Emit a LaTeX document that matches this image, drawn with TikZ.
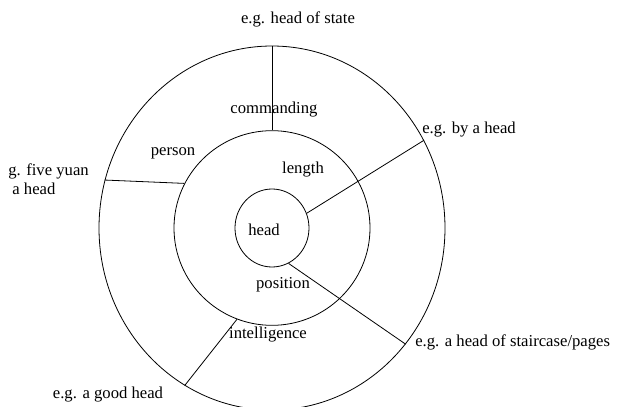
\documentclass[tikz,border=0pt]{standalone}
\usepackage{fontspec}
\setmainfont{Liberation Serif}
\usetikzlibrary{shapes.geometric}

\begin{document}
\begin{tikzpicture}[
    x=0.75pt, y=-0.75pt,
    ring/.style={draw, ellipse, inner sep=0pt, line width=0.6pt, minimum width=#1},
    lbl/.style={font=\fontsize{12.5}{14}\selectfont, inner sep=0pt},
    spoke/.style={line width=0.6pt}
]
\useasboundingbox (0,0) rectangle (619,407);

\node[ring=259.5pt, minimum height=273pt] (outer) at (272, 228) {};
\node[ring=147pt, minimum height=146pt] (middle) at (272, 228) {};
\node[ring=55.5pt, minimum height=58.5pt] (inner) at (272, 228) {};

\node[lbl] (state) at (298, 19) {e.g. head of state};
\node[lbl] (commanding) at (274, 110) {commanding};
\node[lbl] (person) at (173, 153) {person};
\node[lbl] (length) at (303, 170) {length};
\node[lbl] (head) at (264, 230) {head};
\node[lbl] (position) at (283, 285) {position};
\node[lbl] (intelligence) at (268, 335) {intelligence};
\node[lbl, anchor=west] (byhead) at (422, 130) {e.g. by a head};
\node[lbl, anchor=west] (stair) at (415, 342) {e.g. a head of staircase/pages};
\node[lbl, anchor=west, align=left] (yuan) at (8, 179) {g. five yuan\\\ a head};
\node[lbl] (good) at (108, 395) {e.g. a good head};

\draw[spoke] (outer.90) -- (middle.90);
\draw[spoke] (outer.164) -- (middle.153);
\draw[spoke] (inner.23) -- (outer.30);
\draw[spoke] (inner.-65) -- (outer.-41.5);
\draw[spoke] (middle.-111) -- (outer.-119.7);
\end{tikzpicture}
\end{document}
